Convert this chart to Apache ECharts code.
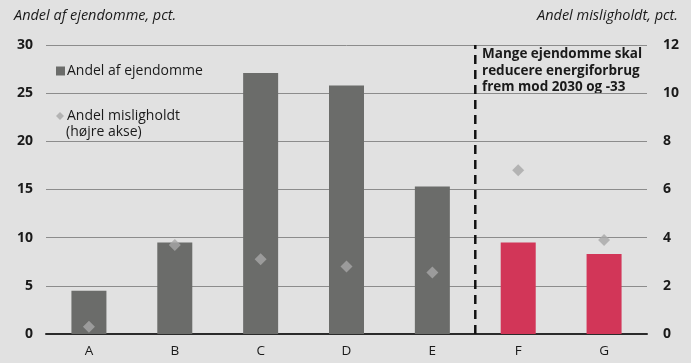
<!DOCTYPE html>
<html>
<head>
<meta charset="utf-8">
<script src="https://cdn.jsdelivr.net/npm/echarts@6/dist/echarts.min.js"></script>
<style>
  html, body { margin: 0; padding: 0; background: #e1e1e1; }
  #chart { width: 691px; height: 363px; }
</style>
</head>
<body>
<div id="chart"></div>
<script>
// Ejendomstyper A-G
const categories = ['A', 'B', 'C', 'D', 'E', 'F', 'G'];
// Andel af ejendomme, pct. (venstre akse)
const shareOfProperties = [4.5, 9.5, 27.1, 25.8, 15.3, 9.5, 8.3];
// Andel misligholdt, pct. (højre akse)
const shareInDefault = [0.3, 3.7, 3.1, 2.8, 2.55, 6.8, 3.9];
// Ejendomme fra og med denne kategori skal reducere energiforbrug
const firstTargetCategory = 'F';
const leftTicks = [0, 5, 10, 15, 20, 25, 30];
const rightTicks = [0, 2, 4, 6, 8, 10, 12];

const FONT = '"Open Sans", "Noto Sans", sans-serif';
const splitIndex = categories.indexOf(firstTargetCategory);
const dividerPos = splitIndex - 0.5;

const chart = echarts.init(document.getElementById('chart'));
chart.setOption({
  backgroundColor: '#e1e1e1',
  animation: false,
  textStyle: { fontFamily: FONT },
  grid: { left: 46, right: 44, top: 45, bottom: 29 },
  graphic: [
    {
      type: 'text', left: 14, top: 8,
      style: { text: 'Andel af ejendomme, pct.', font: 'italic 14.5px ' + FONT, fill: '#1a1a1a' }
    },
    {
      type: 'text', right: 13, top: 8,
      style: { text: 'Andel misligholdt, pct.', font: 'italic 14.5px ' + FONT, fill: '#1a1a1a' }
    },
    {
      type: 'text', left: 482, top: 46,
      style: {
        text: 'Mange ejendomme skal\nreducere energiforbrug\nfrem mod 2030 og -33',
        font: 'bold 13.5px ' + FONT, fill: '#1a1a1a', lineHeight: 16.5
      }
    },
    {
      type: 'text', left: 66, top: 125,
      style: { text: '(højre akse)', font: '14px ' + FONT, fill: '#1a1a1a' }
    }
  ],
  legend: [
    {
      data: ['Andel af ejendomme'],
      left: 51, top: 59,
      itemWidth: 9, itemHeight: 9, itemGap: 4,
      icon: 'rect',
      textStyle: { fontSize: 14, color: '#1a1a1a', fontFamily: FONT, padding: [0, 0, 0, -3] }
    },
    {
      data: ['Andel misligholdt'],
      left: 51, top: 104,
      itemWidth: 8, itemHeight: 8,
      icon: 'diamond',
      textStyle: { fontSize: 14, color: '#1a1a1a', fontFamily: FONT, padding: [0, 0, 0, -2] }
    }
  ],
  xAxis: [
    {
      type: 'category',
      data: categories,
      axisLine: { lineStyle: { color: '#2b2b2b', width: 2 } },
      axisTick: { inside: true, length: 5, lineStyle: { color: '#2b2b2b', width: 2 } },
      axisLabel: { color: '#1a1a1a', fontSize: 13.5, margin: 10 },
      splitLine: { show: false }
    },
    {
      type: 'value', show: false, min: -0.5, max: categories.length - 0.5
    }
  ],
  yAxis: [
    {
      type: 'value', min: 0, max: 30, interval: 5,
      axisLine: { show: false }, axisTick: { show: false },
      axisLabel: {
        color: '#1a1a1a', fontSize: 14, fontWeight: 'bold', margin: 13,
        formatter: v => leftTicks.includes(v) ? String(v) : ''
      },
      splitLine: { lineStyle: { color: '#8c8c8c', width: 1 } }
    },
    {
      type: 'value', min: 0, max: 12, interval: 2,
      axisLine: { show: false }, axisTick: { show: false },
      axisLabel: {
        color: '#1a1a1a', fontSize: 14, fontWeight: 'bold', margin: 16,
        formatter: v => rightTicks.includes(v) ? String(v) : ''
      },
      splitLine: { show: false }
    }
  ],
  series: [
    {
      name: 'Andel af ejendomme',
      type: 'bar',
      data: shareOfProperties,
      barWidth: 35,
      color: '#6b6c6a',
      itemStyle: {
        color: p => p.dataIndex >= splitIndex ? '#d23658' : '#6b6c6a'
      },
      z: 2
    },
    {
      name: 'Andel misligholdt',
      type: 'scatter',
      yAxisIndex: 1,
      data: shareInDefault,
      symbol: 'diamond',
      symbolSize: 12,
      color: '#a8a8a8',
      itemStyle: { color: '#a8a8a8' },
      z: 4
    },
    {
      name: 'skillelinje',
      type: 'line',
      xAxisIndex: 1,
      yAxisIndex: 0,
      data: [[dividerPos, 0], [dividerPos, 30]],
      symbol: 'none',
      lineStyle: { color: '#111', width: 2.5, type: [9, 6] },
      z: 3,
      silent: true
    }
  ]
});
</script>
</body>
</html>
